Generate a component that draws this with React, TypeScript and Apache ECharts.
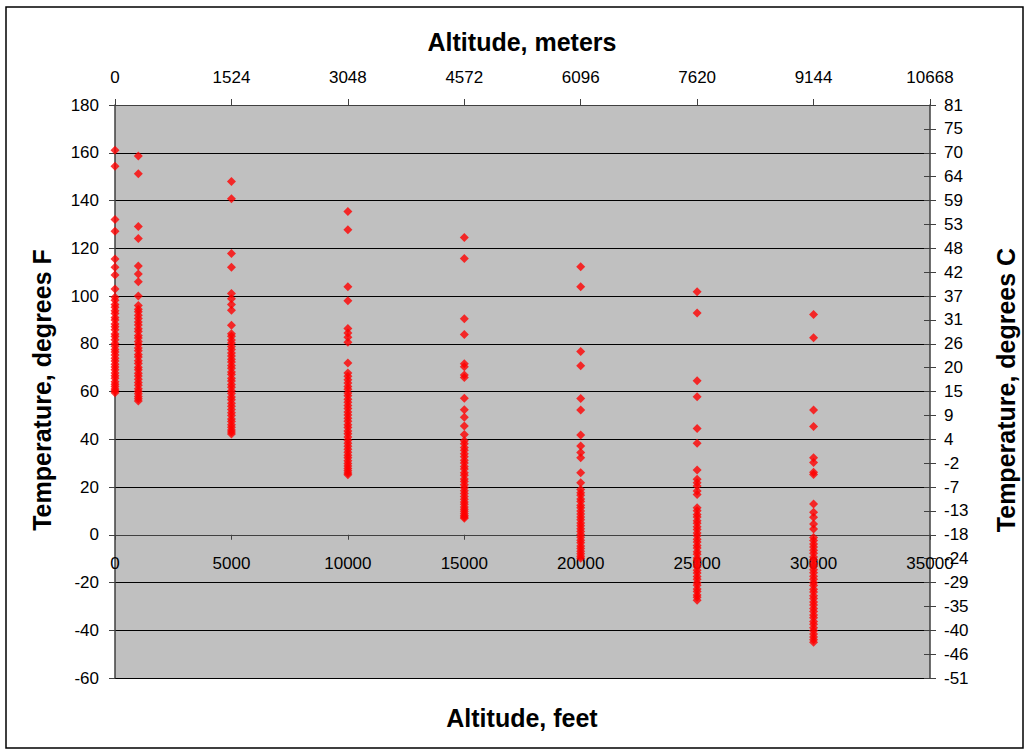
import React, { useEffect, useRef } from "react";
import * as echarts from "echarts";

// Altitudes (feet) of each sounding column
const altitudes = [0, 1000, 5000, 10000, 15000, 20000, 25000, 30000];

// Temperatures (deg F) observed at each altitude
const temps0 = [161, 154.3, 132, 127.1, 115.5, 112, 108.8, 102.9, 99.5, 98.2, 96.4, 95.3, 93.8, 92.7, 91, 89.9, 88.3, 87.1, 85.9, 84.1, 83, 81.7, 80.1, 79, 77.6, 76.5, 75.3, 73.9, 72.8, 71.4, 70.3, 69.1, 67.7, 66.6, 65.5, 64.1, 63, 62.1, 61, 60.3, 59.5];
const temps1000 = [158.6, 151.2, 129.1, 124.1, 112.6, 109.2, 106, 100, 96, 94.5, 93.4, 91.9, 90.6, 89.1, 87.9, 86.3, 85.1, 83.5, 82.4, 80.9, 79.7, 78.2, 77.1, 75.5, 74.4, 72.9, 71.7, 70.2, 69.1, 67.6, 66.5, 65.1, 63.8, 62.6, 61.2, 60.1, 59.1, 57.9, 57, 56];
const temps5000 = [148, 140.7, 117.8, 112, 101, 98.9, 96.4, 94, 87.7, 84.2, 83.1, 81.6, 80.3, 78.9, 77.6, 76.1, 74.9, 73.5, 72.4, 70.9, 69.7, 68.2, 67.1, 65.6, 64.4, 62.9, 61.8, 60.3, 59.2, 57.7, 56.5, 55.1, 53.8, 52.5, 51.1, 49.9, 48.5, 47.4, 46.1, 45, 43.9, 43, 42.2];
const temps10000 = [135.4, 127.8, 103.9, 98, 86.4, 84.5, 82.7, 80.6, 71.9, 67.7, 66.4, 64.9, 63.6, 62.1, 60.9, 59.4, 58.2, 56.8, 55.5, 54.1, 52.9, 51.4, 50.2, 48.8, 47.5, 46.1, 44.9, 43.5, 42.3, 40.9, 39.6, 38.3, 37.1, 35.8, 34.6, 33.3, 32.2, 31, 29.8, 28.8, 27.7, 26.8, 25.9, 25.1];
const temps15000 = [124.5, 115.7, 90.5, 83.9, 71.6, 70.4, 66.9, 65.9, 57.2, 52.4, 49.2, 45.5, 42, 39.4, 38.1, 36.5, 35.4, 33.9, 32.7, 31.2, 30.1, 28.6, 27.5, 26, 24.9, 23.4, 22.3, 20.9, 19.7, 18.4, 17.3, 16, 14.9, 13.7, 12.8, 11.6, 10.7, 9.8, 8.9, 8.1, 7.4, 6.9];
const temps20000 = [112.3, 103.9, 76.8, 70.8, 57.1, 52.2, 41.8, 37.2, 34.4, 32.3, 26, 21.8, 19, 17.6, 16.5, 15, 13.9, 12.4, 11.3, 9.9, 8.7, 7.4, 6.3, 4.9, 3.8, 2.5, 1.4, 0.1, -1, -2.3, -3.4, -4.7, -5.8, -6.9, -8, -9, -9.8];
const temps25000 = [101.8, 92.9, 64.5, 57.8, 44.5, 38.3, 27.1, 23.2, 21.8, 20.4, 18.3, 16.9, 11.3, 10.1, 8.5, 7.4, 5.9, 4.8, 3.3, 2.2, 0.7, -0.4, -1.9, -3, -4.5, -5.6, -7.1, -8.2, -9.7, -10.8, -12.3, -13.4, -14.9, -16, -17.5, -18.6, -20.1, -21.2, -22.7, -23.8, -25.2, -26.2, -27.4];
const temps30000 = [92.3, 82.5, 52.3, 45.3, 32.2, 30.3, 26.2, 25.2, 12.9, 9.4, 7.3, 4.5, 2.4, -1.1, -2.4, -3.9, -5.1, -6.5, -7.8, -9.3, -10.5, -12, -13.2, -14.7, -15.9, -17.4, -18.6, -20.1, -21.3, -22.8, -24, -25.5, -26.7, -28.2, -29.4, -30.9, -32.1, -33.6, -34.8, -36.3, -37.5, -39, -40.2, -41.6, -42.8, -44, -45];

const tempColumns = [temps0, temps1000, temps5000, temps10000, temps15000, temps20000, temps25000, temps30000];

// Axis definitions
const feetMin = 0;
const feetMax = 35000;
const feetStep = 5000;
const tempFMin = -60;
const tempFMax = 180;
const tempFStep = 20;
const tempCMin = -51;
const tempCMax = 81;

const FONT = "'Liberation Sans', Arial, sans-serif";

const GRID_TOP = 105;
const GRID_BOTTOM = 72;
const GRID_H = 750 - GRID_TOP - GRID_BOTTOM;

export default function App() {
  const ref = useRef<HTMLDivElement>(null);

  useEffect(() => {
    if (!ref.current) return;
    const chart = echarts.init(ref.current, undefined, { renderer: "svg" });

    const points: number[][] = [];
    altitudes.forEach((alt, i) => {
      tempColumns[i].forEach((t) => points.push([alt, t]));
    });

    const labelStyle = { color: "#000", fontSize: 17, fontFamily: FONT };
    const cLabel = (v: number) =>
      String(Math.floor(tempCMin + ((v - tempFMin) * (tempCMax - tempCMin)) / (tempFMax - tempFMin)));
    // bottom axis sits on 0 °F
    const zeroOffset = -GRID_H * (0 - tempFMin) / (tempFMax - tempFMin);

    const titleStyle = (text: string) => ({
      text,
      font: `bold 25px ${FONT}`,
      fill: "#000",
      textAlign: "center",
      textVerticalAlign: "middle",
      align: "center",
      verticalAlign: "middle",
    });

    chart.setOption({
      animation: false,
      backgroundColor: "#fff",
      grid: {
        left: 115,
        right: 96,
        top: GRID_TOP,
        bottom: GRID_BOTTOM,
        show: true,
        backgroundColor: "#C0C0C0",
        borderWidth: 0,
      },
      xAxis: [
        {
          type: "value",
          position: "bottom",
          offset: zeroOffset,
          min: feetMin,
          max: feetMax,
          interval: feetStep,
          axisLine: { show: true, onZero: false, lineStyle: { color: "#404040", width: 1 } },
          axisTick: { show: true, length: 5, lineStyle: { color: "#404040" } },
          axisLabel: {
            ...labelStyle,
            margin: 20,
            showMinLabel: true,
            showMaxLabel: true,
            formatter: (v: number) => String(v),
          },
          splitLine: { show: false },
        },
        {
          type: "value",
          position: "top",
          min: feetMin,
          max: feetMax,
          interval: feetStep,
          axisLine: { show: true, onZero: false, lineStyle: { color: "#404040", width: 1 } },
          axisTick: { show: true, length: 6, lineStyle: { color: "#404040" } },
          axisLabel: {
            ...labelStyle,
            margin: 19,
            showMinLabel: true,
            showMaxLabel: true,
            formatter: (v: number) => String(Math.round(v * 0.3048)),
          },
          splitLine: { show: false },
        },
      ],
      yAxis: [
        {
          type: "value",
          position: "left",
          min: tempFMin,
          max: tempFMax,
          interval: tempFStep,
          axisLine: { show: true, onZero: false, lineStyle: { color: "#404040", width: 1.5 } },
          axisTick: { show: true, length: 6, lineStyle: { color: "#404040" } },
          axisLabel: { ...labelStyle, margin: 16 },
          splitLine: { show: true, lineStyle: { color: "#000", width: 1 } },
        },
        {
          type: "value",
          position: "right",
          min: tempFMin,
          max: tempFMax,
          interval: tempFStep / 2,
          axisLine: { show: true, onZero: false, lineStyle: { color: "#404040", width: 1.5 } },
          axisTick: { show: true, length: 6, lineStyle: { color: "#404040" } },
          axisLabel: { ...labelStyle, margin: 14, formatter: cLabel },
          splitLine: { show: false },
        },
        {
          type: "value",
          position: "right",
          min: tempFMin,
          max: tempFMax,
          interval: tempFStep / 2,
          axisLine: { show: false, onZero: false },
          axisTick: { show: true, inside: true, length: 6, lineStyle: { color: "#404040" } },
          axisLabel: { show: false },
          splitLine: { show: false },
        },
      ],
      series: [
        {
          type: "scatter",
          xAxisIndex: 0,
          yAxisIndex: 0,
          symbol: "diamond",
          symbolSize: 9,
          itemStyle: { color: "#FF0000" },
          data: points,
        },
      ],
      graphic: [
        {
          type: "rect",
          shape: { x: 6, y: 7, width: 1017, height: 741 },
          style: { fill: "none", stroke: "#000", lineWidth: 1.5 },
          silent: true,
        },
        { type: "text", x: 522, y: 42, style: titleStyle("Altitude, meters") },
        { type: "text", x: 522, y: 718, style: titleStyle("Altitude, feet") },
        { type: "text", x: 42, y: 390, rotation: Math.PI / 2, style: titleStyle("Temperature, degrees F") },
        { type: "text", x: 1006, y: 390, rotation: Math.PI / 2, style: titleStyle("Temperature, degrees C") },
      ],
    });

    return () => chart.dispose();
  }, []);

  return (
    <div
      ref={ref}
      style={{ position: "fixed", left: 0, top: 0, width: 1026, height: 750 }}
    />
  );
}
